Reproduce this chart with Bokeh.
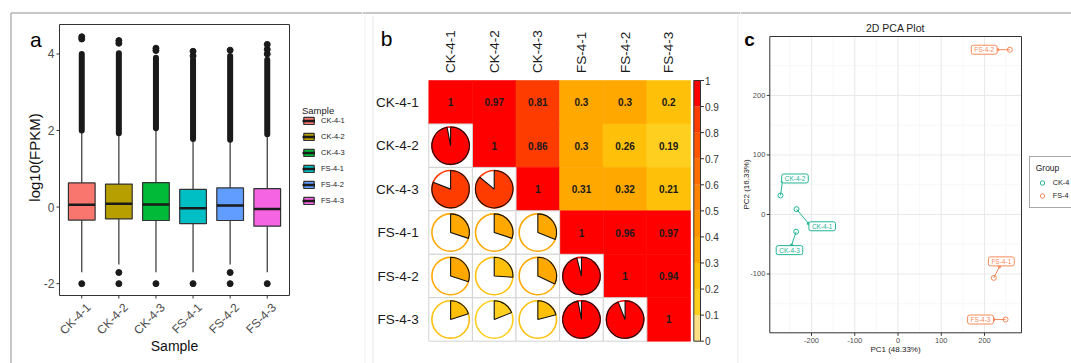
import math
from bokeh.plotting import figure
from bokeh.layouts import row
from bokeh.models import ColumnDataSource, Range1d, Legend, LegendItem
from bokeh.core.properties import value
from bokeh.embed import file_html
from bokeh.resources import INLINE

FONT = "Liberation Sans"

# ---------------- data: panel a (boxplots of log10(FPKM)) ----------------
samples = ["CK-4-1", "CK-4-2", "CK-4-3", "FS-4-1", "FS-4-2", "FS-4-3"]
box_colors = ["#F8766D", "#B79F00", "#00BA38", "#00BFC4", "#619CFF", "#F564E3"]
q1 = [-0.34, -0.31, -0.35, -0.43, -0.35, -0.50]
median = [0.06, 0.09, 0.07, -0.03, 0.04, -0.05]
q3 = [0.63, 0.60, 0.64, 0.46, 0.50, 0.48]
whisker_lo = [-1.70, -1.50, -1.70, -1.70, -1.50, -1.70]
whisker_hi = [2.00, 1.93, 2.06, 1.78, 1.76, 1.90]
dense_outlier_top = [4.00, 4.02, 3.90, 3.85, 3.95, 3.85]
outlier_sample = ["CK-4-1", "CK-4-1", "CK-4-1",
                  "CK-4-2", "CK-4-2", "CK-4-2", "CK-4-2",
                  "CK-4-3", "CK-4-3", "CK-4-3",
                  "FS-4-1", "FS-4-1", "FS-4-1",
                  "FS-4-2", "FS-4-2", "FS-4-2",
                  "FS-4-3", "FS-4-3", "FS-4-3", "FS-4-3"]
outlier_value = [4.45, 4.39, -2.0,
                 4.35, 4.28, -1.71, -2.0,
                 4.15, 4.09, -2.0,
                 4.07, 3.95, -2.0,
                 4.10, -1.71, -2.0,
                 4.25, 4.12, 4.00, -2.0]
y_ticks_a = [-2, 0, 2, 4]

# ---------------- data: panel b (correlation matrix) ----------------
corr = [
    [1.00, 0.97, 0.81, 0.30, 0.30, 0.20],
    [0.97, 1.00, 0.86, 0.30, 0.26, 0.19],
    [0.81, 0.86, 1.00, 0.31, 0.32, 0.21],
    [0.30, 0.30, 0.31, 1.00, 0.96, 0.97],
    [0.30, 0.26, 0.32, 0.96, 1.00, 0.94],
    [0.20, 0.19, 0.21, 0.97, 0.94, 1.00],
]
cb_breaks = [0.0, 0.1, 0.2, 0.3, 0.4, 0.5, 0.6, 0.7, 0.8, 0.9, 1.0]
cb_palette = ["#FFDF86", "#FFCF1F", "#FFC00A", "#FFA800", "#FF9600",
              "#FF8200", "#FF6C00", "#FF5500", "#FF3C00", "#FF0000"]

# ---------------- data: panel c (PCA) ----------------
pc1 = [-234.7, -271.7, -235.4, 221.5, 258.5, 248.6]
pc2 = [8.9, 31.9, -29.0, -106.5, 276.8, -176.5]
groups = ["CK-4", "CK-4", "CK-4", "FS-4", "FS-4", "FS-4"]
group_names = ["CK-4", "FS-4"]
x_ticks_c = [-200, -100, 0, 100, 200]
y_ticks_c = [-100, 0, 100, 200]

# label placement (screen px offsets from each point; styling only)
lab_dx = [25.7, 14.5, -6.7, 7.5, -25.6, -25.0]
lab_dy = [17.1, -17.0, 18.4, -16.5, 0.0, 0.0]
seg_dx = [12.0, 2.0, -4.7, 5.7, -12.0, -11.7]
seg_dy = [14.3, -14.0, 13.7, -11.3, 0.0, 0.0]

BORDER = "#8f8f8f"
DARK = "#333333"
H = 363


def canvas_fig(w, h, box_px, box_data):
    """Figure whose frame is the whole canvas; box_px=(left,right,top,bottom) pixels
    of the plotting area map onto box_data=(x0,x1,y0,y1)."""
    L, R, T, B = box_px
    x0, x1, y0, y1 = box_data
    kx = (x1 - x0) / (R - L)
    ky = (y1 - y0) / (B - T)
    xr = Range1d(x0 - L * kx, x1 + (w - R) * kx)
    yr = Range1d(y0 - (h - B) * ky, y1 + T * ky)
    p = figure(width=w, height=h, x_range=xr, y_range=yr, x_axis_type=None,
               y_axis_type=None, min_border=0, toolbar_location=None,
               output_backend="svg", title=None)
    p.outline_line_color = None
    p.background_fill_color = "white"
    p.border_fill_color = "white"

    def X(px):
        return xr.start + px * kx

    def Y(py):
        return yr.end - py * ky
    return p, X, Y, kx, ky


def txt(p, x, y, text, size, color="#1a1a1a", align="center", baseline="middle",
        angle=0, style="normal"):
    return p.text(x=x, y=y, text=text, text_font=value(FONT), text_font_size=size,
                  text_color=color, text_align=align, text_baseline=baseline,
                  angle=angle, angle_units="deg", text_font_style=style)


# =================== Panel a ===================
A_L, A_R, A_T, A_B = 59, 289, 24, 295
YA0, YA1 = -2.31, 4.77
pa, XA, YA, kxa, kya = canvas_fig(362, H, (A_L, A_R, A_T, A_B), (0.4, 6.6, YA0, YA1))
xs = list(range(1, len(samples) + 1))
BW = 0.72
src_a = ColumnDataSource(dict(
    x=xs, q1=q1, q3=q3, med=median, lo=whisker_lo, hi=whisker_hi,
    dense=dense_outlier_top, color=box_colors,
    x0=[x - BW / 2 for x in xs], x1=[x + BW / 2 for x in xs]))
pa.segment(x0="x", y0="lo", x1="x", y1="q1", source=src_a, line_color=DARK, line_width=1.2)
pa.segment(x0="x", y0="q3", x1="x", y1="hi", source=src_a, line_color=DARK, line_width=1.2)
pa.segment(x0="x", y0="hi", x1="x", y1="dense", source=src_a, line_color="#1a1a1a",
           line_width=6, line_cap="round")
pa.scatter(x=[xs[samples.index(s)] for s in outlier_sample], y=outlier_value,
           size=6, fill_color="#1a1a1a", line_color="#1a1a1a")
box_r = pa.vbar(x="x", width=BW, bottom="q1", top="q3", source=src_a,
                fill_color="color", line_color=DARK, line_width=1.2)
med_r = pa.segment(x0="x0", y0="med", x1="x1", y1="med", source=src_a,
                   line_color="#1a1a1a", line_width=2.5)
# panel frame
pa.quad(left=[0.4], right=[6.6], bottom=[YA0], top=[YA1], fill_color=None,
        line_color=DARK, line_width=1)
# axes (ticks + labels)
pa.segment(x0=[XA(A_L - 3)] * len(y_ticks_a), x1=[0.4] * len(y_ticks_a),
           y0=y_ticks_a, y1=y_ticks_a, line_color=DARK, line_width=1)
txt(pa, [XA(A_L - 5)] * len(y_ticks_a), y_ticks_a, [str(t) for t in y_ticks_a], "12px",
    color="#4d4d4d", align="right")
pa.segment(x0=xs, x1=xs, y0=[YA0] * len(xs), y1=[YA(A_B + 3)] * len(xs),
           line_color=DARK, line_width=1)
txt(pa, [x + 2 * kxa for x in xs], [YA(A_B + 5)] * len(xs), samples, "12px",
    color="#4d4d4d", align="right", baseline="top", angle=45)
txt(pa, [XA(174)], [YA(345)], ["Sample"], "14px", color="#111111")
txt(pa, [XA(34)], [YA(157)], ["log10(FPKM)"], "15px", color="#111111", angle=90)
txt(pa, [XA(35.3)], [YA(39)], ["a"], "21px", color="black", baseline="alphabetic")
# outer panel border (top + left)
pa.segment(x0=[XA(10.5), XA(10.5)], y0=[YA(12.5), YA(12.5)], x1=[XA(362), XA(10.5)],
           y1=[YA(12.5), YA(H)], line_color=BORDER, line_width=1)

leg_a = Legend(items=[LegendItem(label=s, renderers=[box_r, med_r], index=i)
                      for i, s in enumerate(samples)],
               location=(302, 158), title="Sample",
               title_text_font_size="9.5px", title_text_font_style="normal",
               title_text_font=FONT, title_text_color="#222222",
               label_text_font_size="7.5px", label_text_font=FONT,
               label_text_color="#222222",
               glyph_width=13, glyph_height=9, label_height=9, spacing=7,
               padding=2, margin=0, border_line_color=None, background_fill_alpha=0,
               title_standoff=0, label_standoff=6)
pa.add_layout(leg_a)

# =================== Panel b ===================
n = len(samples)
B_L, B_R, B_T, B_B = 66.3, 328.0, 80.0, 340.7
pb, XB, YB, kxb, kyb = canvas_fig(378, H, (B_L, B_R, B_T, B_B), (0, n, 0, n))


def bin_color(v):
    k = min(int(math.floor(v * 10 + 1e-9)), len(cb_palette) - 1)
    return cb_palette[k]


ux, uy, uv, ucol = [], [], [], []
lx, ly, lv, lcol = [], [], [], []
for i in range(n):
    for j in range(n):
        v = corr[i][j]
        cx, cy = j + 0.5, n - i - 0.5
        if j >= i:
            ux.append(cx); uy.append(cy); uv.append(v); ucol.append(bin_color(v))
        else:
            lx.append(cx); ly.append(cy); lv.append(v); lcol.append(bin_color(v))

pb.rect(x=ux, y=uy, width=1, height=1, fill_color=ucol, line_color=ucol, line_width=0.6)
pb.rect(x=lx, y=ly, width=1, height=1, fill_color="white", line_color="#d2d2d2",
        line_width=1)
txt(pb, ux, uy, ["{:g}".format(v) for v in uv], "10px", style="bold")
R = 18.7
pb.circle(x=lx, y=ly, radius=R, radius_units="screen", fill_color="white",
          line_color=lcol, line_width=1.6)
pb.wedge(x=lx, y=ly, radius=R, radius_units="screen",
         start_angle=[90 - 360 * v for v in lv], end_angle=[90] * len(lv),
         start_angle_units="deg", end_angle_units="deg", direction="anticlock",
         fill_color=lcol, line_color="#111111", line_width=1.1)
# row / column labels
txt(pb, [j + 0.5 for j in range(n)], [YB(B_T - 7.5)] * n, samples, "13.5px",
    align="left", angle=90)
txt(pb, [XB(B_L - 10)] * n, [n - i - 0.5 for i in range(n)], samples, "13.5px",
    align="right")
# colour bar
cb_x0, cb_x1 = XB(B_R + 3.3), XB(B_R + 10.0)
m = len(cb_breaks) - 1
pb.quad(left=[cb_x0] * m, right=[cb_x1] * m,
        bottom=[n * b for b in cb_breaks[:-1]], top=[n * b for b in cb_breaks[1:]],
        fill_color=cb_palette, line_color=None)
pb.quad(left=[cb_x0], right=[cb_x1], bottom=[0], top=[n], fill_color=None,
        line_color=DARK, line_width=1)
pb.segment(x0=[cb_x1] * len(cb_breaks), x1=[XB(B_R + 13.5)] * len(cb_breaks),
           y0=[n * b for b in cb_breaks], y1=[n * b for b in cb_breaks],
           line_color=DARK, line_width=1)
txt(pb, [XB(B_R + 14.5)] * len(cb_breaks), [n * b for b in cb_breaks],
    ["{:g}".format(b) for b in cb_breaks], "10px", color="#333333", align="left")
txt(pb, [XB(24.2)], [YB(38.3)], ["b"], "21px", color="black", baseline="alphabetic")
# decorative panel lines
pb.segment(x0=[XB(0)], x1=[XB(378)], y0=[YB(12.5)], y1=[YB(12.5)],
           line_color=BORDER, line_width=1)
pb.segment(x0=[XB(2.5), XB(10.5), XB(375.5)], x1=[XB(2.5), XB(10.5), XB(375.5)],
           y0=[YB(15)] * 3, y1=[YB(H)] * 3,
           line_color=["#f0f0f0", "#e8e8e8", "#ececec"], line_width=1)

# =================== Panel c ===================
XR = (-296.4, 285.5)
YR = (-198.8, 299.0)
C_L, C_R, C_T, C_B = 29.3, 281.0, 36.0, 332.3
pc, XC, YC, kxc, kyc = canvas_fig(331, H, (C_L, C_R, C_T, C_B), XR + YR)
x_minor = [t + 50 for t in [-300] + x_ticks_c]
y_minor = [t + 50 for t in [-200] + y_ticks_c]
pc.segment(x0=x_minor, x1=x_minor, y0=[YR[0]] * len(x_minor), y1=[YR[1]] * len(x_minor),
           line_color="#f3f3f3", line_width=0.7)
pc.segment(x0=[XR[0]] * len(y_minor), x1=[XR[1]] * len(y_minor), y0=y_minor, y1=y_minor,
           line_color="#f3f3f3", line_width=0.7)
pc.segment(x0=x_ticks_c, x1=x_ticks_c, y0=[YR[0]] * len(x_ticks_c),
           y1=[YR[1]] * len(x_ticks_c), line_color="#e9e9e9", line_width=1.1)
pc.segment(x0=[XR[0]] * len(y_ticks_c), x1=[XR[1]] * len(y_ticks_c), y0=y_ticks_c,
           y1=y_ticks_c, line_color="#e9e9e9", line_width=1.1)
pc.quad(left=[XR[0]], right=[XR[1]], bottom=[YR[0]], top=[YR[1]], fill_color=None,
        line_color=DARK, line_width=1)
# ticks + tick labels
pc.segment(x0=x_ticks_c, x1=x_ticks_c, y0=[YR[0]] * len(x_ticks_c),
           y1=[YC(C_B + 3)] * len(x_ticks_c), line_color=DARK, line_width=1)
txt(pc, x_ticks_c, [YC(C_B + 7.5)] * len(x_ticks_c), [str(t) for t in x_ticks_c],
    "7.5px", color="#4d4d4d")
pc.segment(x0=[XC(C_L - 3)] * len(y_ticks_c), x1=[XR[0]] * len(y_ticks_c),
           y0=y_ticks_c, y1=y_ticks_c, line_color=DARK, line_width=1)
txt(pc, [XC(C_L - 4.5)] * len(y_ticks_c), y_ticks_c, [str(t) for t in y_ticks_c],
    "7.5px", color="#4d4d4d", align="right")
txt(pc, [XC(155)], [YC(27)], ["2D PCA Plot"], "10.5px", color="#222222")
txt(pc, [XC(155)], [YC(349)], ["PC1 (48.33%)"], "8px", color="#222222")
txt(pc, [XC(6)], [YC(184)], ["PC2 (16.33%)"], "8px", color="#222222", angle=90)
txt(pc, [XC(9)], [YC(39)], ["c"], "19px", color="black", baseline="alphabetic",
    style="bold")
pc.segment(x0=[XC(0)], x1=[XC(331)], y0=[YC(12.5)], y1=[YC(12.5)],
           line_color=BORDER, line_width=1)

group_colors = {"CK-4": "#22B596", "FS-4": "#F68B5A"}
pt_colors = [group_colors[g] for g in groups]
sx1 = [x + dx * kxc for x, dx in zip(pc1, seg_dx)]
sy1 = [y - dy * kyc for y, dy in zip(pc2, seg_dy)]
pc.segment(x0=pc1, y0=pc2, x1=sx1, y1=sy1, line_color=pt_colors, line_width=1)
pc.scatter(x=sx1, y=sy1, size=2.5, fill_color=pt_colors, line_color=pt_colors)
pc.text(x=pc1, y=pc2, text=samples, x_offset=lab_dx, y_offset=lab_dy,
        text_align="center", text_baseline="middle", text_font=value(FONT),
        text_font_size="6.5px", text_color=pt_colors,
        background_fill_color="white", border_line_color=pt_colors,
        border_line_width=1, padding=(3, 1), border_radius=2)
leg_items = []
for gname in group_names:
    gx = [x for x, g in zip(pc1, groups) if g == gname]
    gy = [y for y, g in zip(pc2, groups) if g == gname]
    r = pc.scatter(x=gx, y=gy, size=5, fill_color=None, line_color=group_colors[gname],
                   line_width=1)
    leg_items.append(LegendItem(label=gname, renderers=[r]))
leg_c = Legend(items=leg_items, location=(288.7, H - 208.3), title="Group",
               title_text_font_size="8.5px", title_text_font_style="normal",
               title_text_font=FONT, title_text_color="#222222",
               label_text_font_size="7.3px", label_text_font=FONT,
               label_text_color="#222222",
               glyph_width=12, glyph_height=11, label_height=11, label_width=40,
               spacing=2, padding=6, margin=0, border_line_color="#555555",
               border_line_width=1, background_fill_color="white", title_standoff=4,
               label_standoff=5)
pc.add_layout(leg_c)

layout = row(pa, pb, pc)
open("out.html", "w").write(file_html(layout, INLINE))
